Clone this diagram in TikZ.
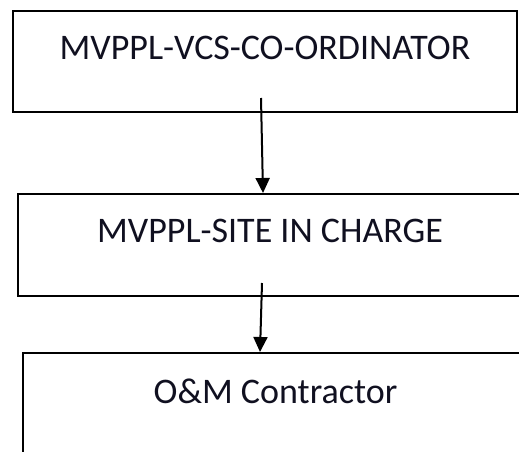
\documentclass[tikz,border=0pt]{standalone}
\usepackage{fontspec}
\setmainfont{Carlito}
\usetikzlibrary{arrows.meta}
\definecolor{txt}{RGB}{16,16,32}
\begin{document}
\begin{tikzpicture}[x=1pt,y=-1pt,
  box/.style={draw=black,line width=2pt,rectangle,inner sep=0pt,minimum width=#1,minimum height=102pt},
  lbl/.style={inner sep=0pt,text=txt,font=\fontsize{36}{40}\selectfont},
  conn/.style={line width=2pt,-{Triangle[length=15pt,width=14pt]}}]
\useasboundingbox (0,0) rectangle (519,452);
\node[box=504pt,minimum height=101pt] (b1) at (265,61.5) {};
\node[box=507pt] (b2) at (271.5,245) {};
\node[box=505pt] (b3) at (275.5,404) {};
\node[lbl] (t1) at (265,48) {MVPPL-VCS-CO-ORDINATOR};
\node[lbl] (t2) at (270,231) {MVPPL-SITE IN CHARGE};
\node[lbl] (t3) at (275.5,391) {O\&M Contractor};
\coordinate (s1) at (261,98);
\coordinate (s2) at (262,283);
\draw[conn] (s1) -- ([xshift=-8.5pt]b2.north);
\draw[conn] (s2) -- ([xshift=-15.5pt]b3.north);
\end{tikzpicture}
\end{document}
